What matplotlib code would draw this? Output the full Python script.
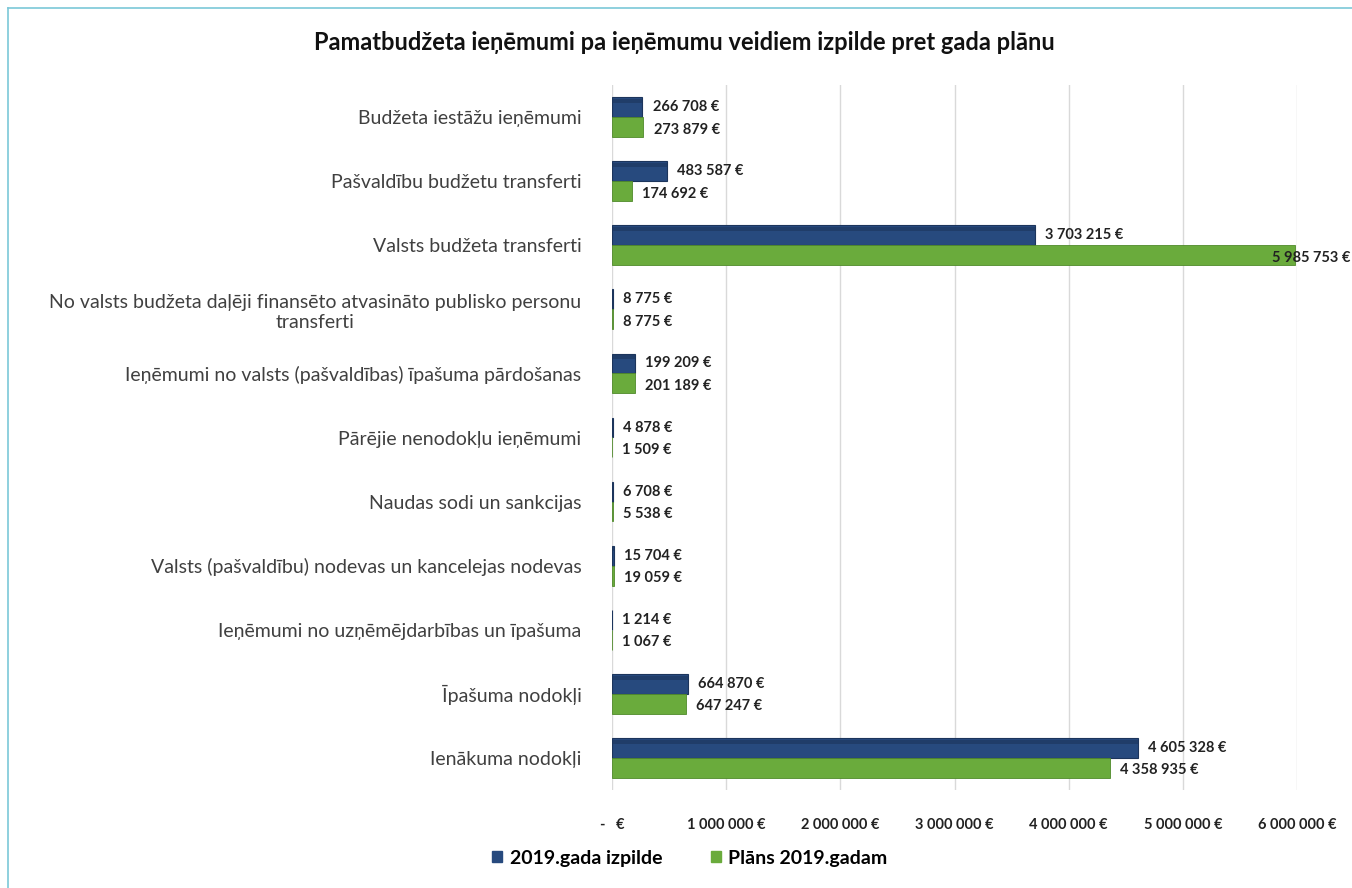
import matplotlib
matplotlib.use("Agg")
import matplotlib.pyplot as plt
from matplotlib.patches import Rectangle
from matplotlib.lines import Line2D

plt.rcParams['font.family'] = ['Lato', 'DejaVu Sans']

categories = [
    "Budžeta iestāžu ieņēmumi",
    "Pašvaldību budžetu transferti",
    "Valsts budžeta transferti",
    "No valsts budžeta daļēji finansēto atvasināto publisko personu\ntransferti",
    "Ieņēmumi no valsts (pašvaldības) īpašuma pārdošanas",
    "Pārējie nenodokļu ieņēmumi",
    "Naudas sodi un sankcijas",
    "Valsts (pašvaldību) nodevas un kancelejas nodevas",
    "Ieņēmumi no uzņēmējdarbības un īpašuma",
    "Īpašuma nodokļi",
    "Ienākuma nodokļi",
]
izpilde_2019 = [266708, 483587, 3703215, 8775, 199209, 4878, 6708, 15704, 1214, 664870, 4605328]
plans_2019 = [273879, 174692, 5985753, 8775, 201189, 1509, 5538, 19059, 1067, 647247, 4358935]
series_names = ["2019.gada izpilde", "Plāns 2019.gadam"]
xticks = [0, 1000000, 2000000, 3000000, 4000000, 5000000, 6000000]

blue = "#274a7e"
blue_dark = "#1c355c"
green = "#6aab3c"
green_dark = "#4f8a2a"


def fmt(v):
    return f"{v:,}".replace(",", " ") + " €"


W, H = 1352, 888
fig = plt.figure(figsize=(W / 100, H / 100), dpi=100)
ax = fig.add_axes([612 / W, 1 - 790 / H, (1297 - 612) / W, (790 - 85) / H])

n = len(categories)
ys = list(range(n))
h = 0.31
off = 0.155
ax.barh([y - off for y in ys], izpilde_2019, height=h, color=blue, edgecolor=blue_dark, linewidth=0.8, zorder=3)
ax.barh([y + off for y in ys], plans_2019, height=h, color=green, edgecolor=green_dark, linewidth=0.6, zorder=3)
# subtle darker top strip for 3D-like effect
ax.barh([y - off - h * 0.32 for y in ys], izpilde_2019, height=h * 0.2, color=blue_dark, linewidth=0, zorder=4, alpha=0.6)

ax.set_ylim(n - 0.5, -0.5)
ax.set_xlim(0, 6000000)

labels = []
for y, v in zip(ys, izpilde_2019):
    labels.append(ax.text(v + 90000, y - off, fmt(v), va="center", ha="left", fontsize=10.5,
                          fontweight="bold", color="#222222", clip_on=False, zorder=5))
for y, v in zip(ys, plans_2019):
    labels.append(ax.text(v + 90000, y + off + 0.04, fmt(v), va="center", ha="left", fontsize=10.5,
                          fontweight="bold", color="#222222", clip_on=False, zorder=5))

ax.set_yticks(ys)
ax.set_yticklabels(categories, fontsize=14, color="#404040", ha="right", multialignment="center")
ax.tick_params(axis="y", length=0, pad=22)
ax.set_xticks(xticks)
ax.set_xticklabels(["-   €"] + [fmt(v) for v in xticks[1:]], fontsize=10.5, fontweight="bold", color="#222222")
ax.tick_params(axis="x", length=0, pad=20)
ax.grid(axis="x", color="#d9d9d9", linewidth=1, zorder=0)
for s in ax.spines.values():
    s.set_visible(False)

fig.text(684 / W, 1 - 43 / H, "Pamatbudžeta ieņēmumi pa ieņēmumu veidiem izpilde pret gada plānu",
         ha="center", va="center", fontsize=17, fontweight="bold", color="#111111")

handles = [Rectangle((0, 0), 1, 1, color=blue), Rectangle((0, 0), 1, 1, color=green)]
fig.legend(handles, series_names, loc="center", bbox_to_anchor=(690 / W, 1 - 858 / H), ncol=2,
           frameon=False, prop={"size": 14, "weight": "bold"}, handlelength=0.5, handleheight=0.5,
           columnspacing=2.5, handletextpad=0.4)

# thin frame lines (left and top)
fig.add_artist(Line2D([8 / W, 8 / W], [0, 1 - 8 / H], color="#7cc8d8", linewidth=1.2))
fig.add_artist(Line2D([8 / W, 1], [1 - 8 / H, 1 - 8 / H], color="#7cc8d8", linewidth=1.2))

# keep labels inside the figure: shift left any label that would overflow the right edge
fig.canvas.draw()
renderer = fig.canvas.get_renderer()
for t in labels:
    bb = t.get_window_extent(renderer)
    if bb.x1 > W - 2:
        shift_px = bb.x1 - (W - 2)
        x_disp, y_disp = ax.transData.transform(t.get_position())
        nx, ny = ax.transData.inverted().transform((x_disp - shift_px, y_disp))
        t.set_position((nx, t.get_position()[1]))

fig.savefig("out.png", dpi=100)
